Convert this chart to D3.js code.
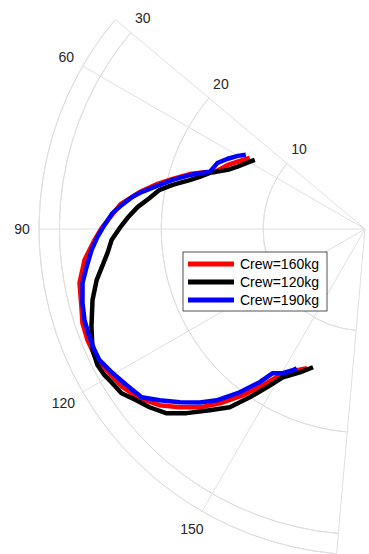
<!DOCTYPE html>
<html>
<head>
<meta charset="utf-8">
<script src="https://cdn.jsdelivr.net/npm/d3@7"></script>
<style>
  html, body { margin: 0; padding: 0; background: #fff; }
  svg { display: block; }
  text { font-family: "Liberation Sans", Arial, Helvetica, sans-serif; }
</style>
</head>
<body>
<script>
// ---- data (theta in degrees, counter-clockwise from top; r in data units) ----
const seriesNames = ["Crew=160kg", "Crew=120kg", "Crew=190kg"];
const seriesColors = ["#ff0000", "#000000", "#0000ff"];

const thetaRed = [58.3, 61.5, 65.0, 69.2, 70.2, 72.6, 75.4, 77.7, 80.7, 84.2, 89.8, 92.3, 96.3, 100.7, 105.4, 108.4, 111.8, 115.0, 118.7, 123.1, 126.9, 130.6, 133.9, 137.2, 140.2, 143.7, 146.8, 149.8, 154.3, 157.4];
const rRed     = [13.29, 13.99, 14.87, 15.78, 16.52, 18.04, 19.51, 20.83, 22.42, 24.12, 25.86, 26.57, 27.70, 28.52, 28.87, 29.23, 29.34, 29.30, 28.91, 28.42, 27.67, 26.57, 25.24, 23.86, 22.27, 20.26, 18.33, 16.61, 15.39, 14.81];

const thetaBlack = [57.9, 60.8, 64.2, 66.7, 67.9, 70.1, 72.5, 74.4, 77.1, 79.2, 81.8, 84.5, 87.3, 89.8, 92.5, 95.3, 99.4, 100.8, 104.6, 109.7, 114.0, 117.0, 119.3, 121.2, 124.0, 126.9, 129.6, 132.9, 135.9, 139.4, 142.8, 145.6, 148.2, 151.0, 155.6, 159.4];
const rBlack     = [12.77, 13.29, 13.99, 14.67, 15.17, 16.20, 17.01, 17.87, 19.37, 20.52, 21.36, 22.43, 23.33, 24.09, 24.90, 25.38, 26.41, 26.82, 27.64, 28.52, 29.27, 29.46, 29.32, 29.07, 28.83, 28.02, 27.45, 26.58, 25.17, 23.43, 21.97, 20.02, 18.28, 16.64, 15.45, 14.50];

const thetaBlue = [58.1, 60.1, 62.9, 65.8, 69.8, 70.9, 72.9, 75.7, 77.9, 80.9, 82.1, 84.4, 86.4, 89.8, 91.7, 94.4, 97.8, 100.8, 104.7, 108.0, 111.4, 114.1, 116.3, 119.7, 123.2, 127.0, 129.8, 133.1, 136.4, 139.1, 142.5, 145.5, 147.4, 150.3, 152.9, 153.9];
const rBlue     = [13.78, 14.40, 15.13, 15.85, 16.24, 16.85, 18.01, 19.49, 20.62, 22.40, 23.03, 24.01, 24.83, 25.76, 26.27, 26.92, 27.59, 28.23, 28.67, 28.95, 29.05, 29.09, 29.07, 28.54, 27.98, 27.45, 26.25, 24.90, 23.51, 22.24, 20.20, 18.25, 16.80, 16.30, 15.57, 15.22];

const thetaTicks = [60, 90, 120, 150];
const rTicks = [10, 20, 30];
const thetaLim = [50, 175];
const rLim = [0, 32];

// ---- layout ----
const W = 369, H = 554;
const cx = 365, cy = 229;
const rOuter = 326;

const svg = d3.select("body").append("svg").attr("width", W).attr("height", H);
const g = svg.append("g").attr("transform", `translate(${cx},${cy})`);

const r = d3.scaleLinear().domain(rLim).range([0, rOuter]);
// D3 angle: 0 at top, clockwise positive -> theta CCW means negative angle
const ang = d3.scaleLinear().domain([0, 360]).range([0, -2 * Math.PI]);

const gridColor = "#dfdfdf";
const tickColor = "#262626";

// radial grid arcs (circles at r ticks) over the sector
const arcGen = d3.arc()
  .innerRadius(d => d).outerRadius(d => d)
  .startAngle(ang(thetaLim[1])).endAngle(ang(thetaLim[0]));

g.selectAll(".rgrid").data(rTicks.concat([rLim[1]])).enter().append("path")
  .attr("d", d => arcGen(r(d)))
  .attr("fill", "none").attr("stroke", gridColor).attr("stroke-width", 1);

// angular grid lines plus sector edges
const spokes = thetaTicks.concat(thetaLim);
g.selectAll(".tgrid").data(spokes).enter().append("line")
  .attr("x1", 0).attr("y1", 0)
  .attr("x2", d => r(rLim[1]) * Math.sin(ang(d)))
  .attr("y2", d => -r(rLim[1]) * Math.cos(ang(d)))
  .attr("stroke", gridColor).attr("stroke-width", 1);

// theta tick labels
const fs = 14;
g.selectAll(".tlab").data(thetaTicks).enter().append("text")
  .text(d => d)
  .attr("font-size", fs)
  .attr("fill", tickColor)
  .attr("text-anchor", "middle")
  .attr("dominant-baseline", "central")
  .each(function(d) {
    const a = ang(d);
    const sx = Math.sin(a), cyy = -Math.cos(a);
    const bb = this.getBBox();
    const hw = bb.width / 2, hh = 6;
    const R = r(rLim[1]) + 9 + hw * Math.abs(sx) + hh * Math.abs(cyy);
    d3.select(this).attr("x", R * sx).attr("y", R * cyy);
  });

// radial tick labels along the theta=50 edge
const ea = ang(thetaLim[0]);
const perp = [Math.cos(ea) * 18.6 * 1, Math.sin(ea) * 18.6];
g.selectAll(".rlab").data(rTicks).enter().append("text")
  .text(d => d)
  .attr("font-size", fs)
  .attr("fill", tickColor)
  .attr("text-anchor", "middle")
  .attr("dominant-baseline", "central")
  .attr("x", d => r(d) * Math.sin(ea) + 18.6 * Math.cos(thetaLim[0] * Math.PI / 180))
  .attr("y", d => -r(d) * Math.cos(ea) - 18.6 * Math.sin(thetaLim[0] * Math.PI / 180));

// data lines
const series = [
  { th: thetaRed, rr: rRed },
  { th: thetaBlack, rr: rBlack },
  { th: thetaBlue, rr: rBlue }
];
const line = d3.lineRadial()
  .angle(d => ang(d[0]))
  .radius(d => r(d[1]));

series.forEach((s, i) => {
  const pts = s.th.map((t, k) => [t, s.rr[k]]);
  g.append("path")
    .attr("d", line(pts))
    .attr("fill", "none")
    .attr("stroke", seriesColors[i])
    .attr("stroke-width", 4.5)
    .attr("stroke-linejoin", "round");
});

// legend
const lg = svg.append("g").attr("transform", "translate(183,252)");
lg.append("rect").attr("x", 0).attr("y", 0).attr("width", 144).attr("height", 59)
  .attr("fill", "#fff").attr("stroke", tickColor).attr("stroke-width", 0.8);
seriesNames.forEach((nm, i) => {
  const y = 12 + i * 18;
  lg.append("line").attr("x1", 5).attr("x2", 51).attr("y1", y).attr("y2", y)
    .attr("stroke", seriesColors[i]).attr("stroke-width", 5);
  lg.append("text").attr("x", 57).attr("y", y).text(nm)
    .attr("font-size", fs).attr("fill", "#000")
    .attr("dominant-baseline", "central");
});
</script>
</body>
</html>
